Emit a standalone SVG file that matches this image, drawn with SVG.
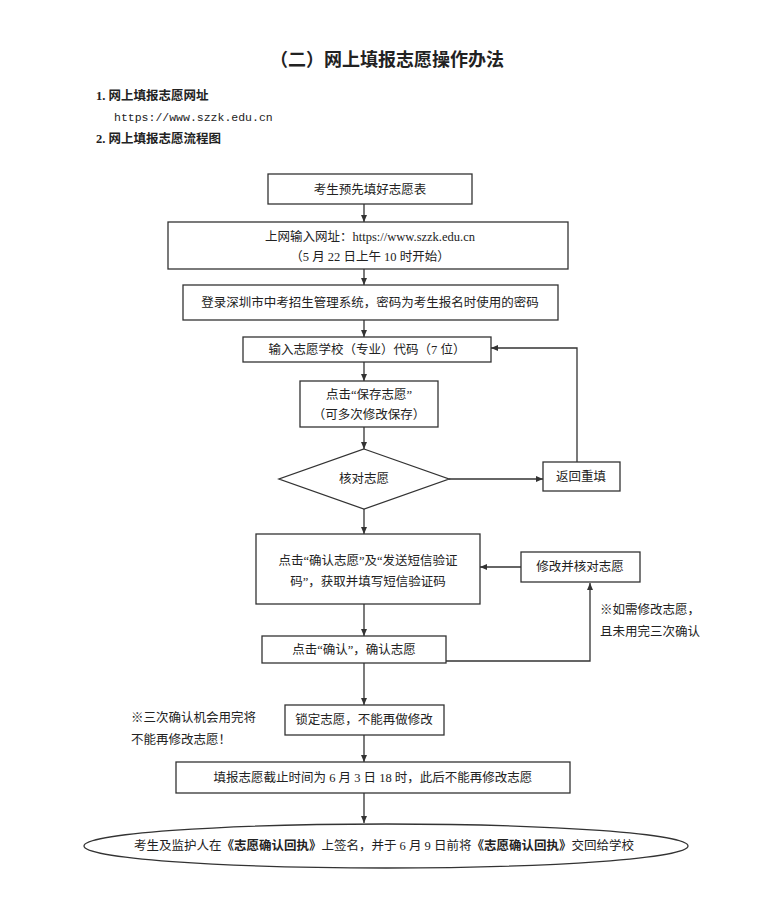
<svg xmlns="http://www.w3.org/2000/svg" width="774" height="921" viewBox="0 0 774 921">
<style>
text{font-family:"Liberation Serif","Noto Sans CJK SC",serif;font-size:12.5px;fill:#222}
.b{fill:#fff;stroke:#333;stroke-width:1.3}
.c{stroke:#333;stroke-width:1.3;fill:none;marker-end:url(#a)}
.m{text-anchor:middle}
</style>
<defs><marker id="a" markerWidth="8" markerHeight="8" refX="7" refY="4" orient="auto" markerUnits="userSpaceOnUse"><path d="M0,1 L7,4 L0,7 Z" fill="#333"/></marker></defs>
<rect width="774" height="921" fill="#fff"/>
<text x="387" y="66" class="m" style="font-size:18px;font-weight:bold">（二）网上填报志愿操作办法</text>
<text x="96" y="100" style="font-weight:bold">1. 网上填报志愿网址</text>
<text x="114" y="121" style="font-family:'Liberation Mono',monospace;font-size:11.5px">https://www.szzk.edu.cn</text>
<text x="96" y="143" style="font-weight:bold">2. 网上填报志愿流程图</text>
<g id="connectors">
<path class="c" d="M364,204 V222"/><path class="c" d="M364,269 V285"/><path class="c" d="M364,320 V337"/>
<path class="c" d="M364,362 V381"/><path class="c" d="M364,427 V449"/><path class="c" d="M449,479 H543"/>
<path class="c" d="M577,462 V348 H491"/><path class="c" d="M364,509 V534"/><path class="c" d="M521,567 H480"/>
<path class="c" d="M364,604 V636"/><path class="c" d="M446,661 H590 V583"/><path class="c" d="M364,663 V705"/>
<path class="c" d="M364,735 V762"/><path class="c" d="M364,793 V823"/>
</g>
<g id="n1"><rect class="b" x="268" y="174" width="204" height="30"/><text x="370" y="194" class="m">考生预先填好志愿表</text></g>
<g id="n2"><rect class="b" x="168" y="222" width="400" height="47"/><text x="370" y="241" class="m">上网输入网址：https://www.szzk.edu.cn</text><text x="370" y="261" class="m">（5 月 22 日上午 10 时开始）</text></g>
<g id="n3"><rect class="b" x="183" y="285" width="375" height="35"/><text x="370" y="307" class="m">登录深圳市中考招生管理系统，密码为考生报名时使用的密码</text></g>
<g id="n4"><rect class="b" x="243" y="337" width="248" height="25"/><text x="367" y="354" class="m">输入志愿学校（专业）代码（7 位）</text></g>
<g id="n5"><rect class="b" x="300" y="381" width="138" height="46"/><text x="369" y="399" class="m">点击“保存志愿”</text><text x="369" y="419" class="m">（可多次修改保存）</text></g>
<g id="n6"><polygon class="b" points="364,449 449,479 364,509 279,479"/><text x="364" y="483" class="m">核对志愿</text></g>
<g id="n7"><rect class="b" x="543" y="462" width="77" height="29"/><text x="581" y="481" class="m">返回重填</text></g>
<g id="n8"><rect class="b" x="256" y="534" width="224" height="70"/><text x="368" y="565" class="m">点击“确认志愿”及“发送短信验证</text><text x="368" y="586" class="m">码”，获取并填写短信验证码</text></g>
<g id="n9"><rect class="b" x="521" y="552" width="119" height="30"/><text x="580" y="571" class="m">修改并核对志愿</text></g>
<g id="note1"><text x="600" y="614">※如需修改志愿，</text><text x="600" y="636">且未用完三次确认</text></g>
<g id="n10"><rect class="b" x="262" y="636" width="184" height="27"/><text x="354" y="654" class="m">点击“确认”，确认志愿</text></g>
<g id="note2"><text x="131" y="722">※三次确认机会用完将</text><text x="131" y="744">不能再修改志愿！</text></g>
<g id="n11"><rect class="b" x="285" y="705" width="159" height="30"/><text x="364" y="724" class="m">锁定志愿，不能再做修改</text></g>
<g id="n12"><rect class="b" x="176" y="762" width="394" height="31"/><text x="373" y="782" class="m">填报志愿截止时间为 6 月 3 日 18 时，此后不能再修改志愿</text></g>
<g id="n13"><ellipse class="b" cx="386" cy="846" rx="302" ry="22"/><text x="384" y="850" class="m">考生及监护人在<tspan style="font-weight:bold">《志愿确认回执》</tspan>上签名，并于 6 月 9 日前将<tspan style="font-weight:bold">《志愿确认回执》</tspan>交回给学校</text></g>
</svg>
